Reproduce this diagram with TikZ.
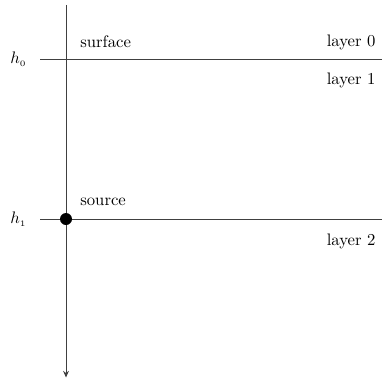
\documentclass[tikz,border=0pt]{standalone}
\usetikzlibrary{arrows.meta}
\begin{document}
\begin{tikzpicture}[x=1pt,y=1pt,
  lbl/.style={inner sep=0pt},
  axisline/.style={draw=black!75,line width=0.5pt}]
\useasboundingbox (0,0) rectangle (229.2,228);
% axis
\coordinate (top) at (39.6,225);
\coordinate (bot) at (39.6,1.5);
\draw[axisline,-{Stealth[length=4pt,width=3.5pt]}] (top) -- (bot);
% interfaces
\coordinate (h0l) at (24,192.6);
\coordinate (h0r) at (229.2,192.6);
\coordinate (h1l) at (24,96.6);
\coordinate (h1r) at (229.2,96.6);
\draw[axisline] (h0l) -- (h0r);
\draw[axisline] (h1l) -- (h1r);
% labels
\node[lbl] (lh0) at (11,192.6) {$h_{\scriptscriptstyle 0}$};
\node[lbl] (lh1) at (11,96.6) {$h_{\scriptscriptstyle 1}$};
\node[lbl,anchor=west] (surf) at (48,202.8) {surface};
\node[lbl,anchor=east] (l0) at (225.5,202.8) {layer 0};
\node[lbl,anchor=east] (l1) at (225.5,180) {layer 1};
\node[lbl,anchor=west] (src) at (48,106.8) {source};
\node[lbl,anchor=east] (l2) at (225.5,83.4) {layer 2};
% source point
\node[circle,fill=black,inner sep=0pt,minimum size=7.2pt] (pt) at (39.6,96.6) {};
\end{tikzpicture}
\end{document}
